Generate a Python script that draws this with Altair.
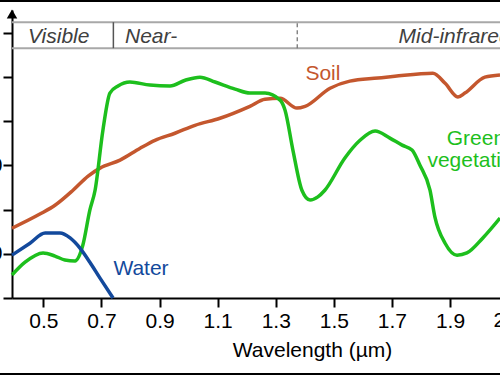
import altair as alt
import pandas as pd

# ---- data (wavelength in µm, reflectance in %) ----
soil_wl = [0.392, 0.488, 0.540, 0.602, 0.654, 0.695, 0.764, 0.833, 0.884, 0.953, 1.022,
           1.108, 1.211, 1.263, 1.315, 1.373, 1.401, 1.487, 1.555, 1.652, 1.710, 1.841,
           1.883, 1.927, 1.951, 2.020, 2.072]
soil_r = [15.8, 19.0, 21.0, 24.4, 27.6, 29.4, 31.2, 33.9, 35.7, 37.3, 39.1,
          40.7, 43.4, 45.0, 45.2, 43.0, 43.4, 47.5, 49.1, 49.8, 50.2, 50.9,
          48.6, 45.5, 46.4, 50.0, 50.5]

veg_wl = [0.392, 0.437, 0.499, 0.540, 0.574, 0.609, 0.636, 0.660, 0.678, 0.705, 0.729,
          0.757, 0.798, 0.867, 0.936, 0.988, 1.039, 1.091, 1.160, 1.211, 1.263, 1.315,
          1.332, 1.359, 1.390, 1.418, 1.445, 1.469, 1.538, 1.590, 1.642, 1.693, 1.735,
          1.769, 1.796, 1.831, 1.848, 1.883, 1.924, 1.958, 2.013, 2.072]
veg_r = [5.2, 8.1, 10.2, 9.5, 8.6, 8.4, 12.0, 19.9, 24.4, 38.0, 46.4,
         48.0, 48.9, 48.2, 48.0, 49.3, 50.0, 48.9, 47.3, 46.4, 46.4, 44.8,
         42.5, 33.5, 24.4, 22.2, 22.9, 24.4, 31.7, 35.7, 37.8, 36.2, 34.6,
         33.5, 30.1, 24.4, 18.3, 12.4, 9.7, 10.2, 13.6, 18.1]

water_wl = [0.392, 0.454, 0.506, 0.557, 0.592, 0.626, 0.660, 0.695, 0.740]
water_r = [9.7, 12.4, 14.7, 14.7, 13.6, 11.3, 8.1, 4.5, 0.0]

series_names = ["Soil", "Green vegetation", "Water"]
series_colors = ["#c4572e", "#1dbf1d", "#13499c"]

x_ticks = [0.5, 0.7, 0.9, 1.1, 1.3, 1.5, 1.7, 1.9]
x_edge_ticks = [2.1]          # tick label that falls past the right edge
y_ticks = [0, 10, 20, 30, 40, 50, 60]

x_domain = [0.392, 2.072]
y_domain = [0, 65.2]

band_bottom, band_top = 56.56, 62.44
band_labels = ["Visible", "Near-", "Mid-infrared"]
band_label_x = [0.447, 0.781, 1.723]
band_label_y = [57.7, 57.7, 57.7]
band_dividers_solid = [0.741]
band_dividers_dashed = [1.374]

curve_labels = ["Soil", "Green\nvegetation", "Water"]
curve_label_x = [1.402, 1.989, 0.741]
curve_label_y = [49.3, 34.6, 5.2]
curve_label_align = ["left", "center", "left"]

FONT = "Liberation Sans"
AXIS_FS = 21

rows = []
for name, wls, rs in [(series_names[0], soil_wl, soil_r),
                      (series_names[1], veg_wl, veg_r),
                      (series_names[2], water_wl, water_r)]:
    for i, (w, r) in enumerate(zip(wls, rs)):
        rows.append({"series": name, "wl": w, "refl": r, "order": i})
df = pd.DataFrame(rows)

xs = alt.Scale(domain=x_domain, nice=False, zero=False)
ys = alt.Scale(domain=y_domain, nice=False, zero=False)
color_scale = alt.Scale(domain=series_names, range=series_colors)

x_axis = alt.Axis(values=x_ticks, format=".1f", title="Wavelength (µm)",
                  labelFlush=False, labelOverlap=False, labelFontSize=AXIS_FS,
                  labelFont=FONT, labelColor="#000", labelPadding=3,
                  tickSize=9, tickWidth=2, tickColor="#000",
                  domainColor="#000", domainWidth=2, grid=False,
                  titleFont=FONT, titleFontSize=AXIS_FS, titleFontWeight="normal",
                  titleColor="#000", titleX=300, titleY=58,
                  titleBaseline="alphabetic", titleAnchor="start",
                  titleAlign="center")
y_axis = alt.Axis(values=y_ticks, title="", grid=False,
                  labelExpr="datum.value == 10 || datum.value == 30 ? datum.label : ''",
                  labelFontSize=AXIS_FS, labelFont=FONT, labelColor="#000",
                  labelPadding=1, tickSize=9, tickWidth=2, tickColor="#000",
                  domainColor="#000", domainWidth=2)


def X(field):
    return alt.X(field, scale=xs, axis=x_axis, title="Wavelength (µm)")


def Y(field):
    return alt.Y(field, scale=ys, axis=y_axis, title="")


lines = alt.Chart(df).mark_line(strokeWidth=3.5, interpolate="monotone").encode(
    x=X("wl:Q"), y=Y("refl:Q"),
    color=alt.Color("series:N", scale=color_scale, legend=None),
    order="order:Q",
)

band_df = pd.DataFrame({"x0": [x_domain[0]] * 2, "x1": [x_domain[1]] * 2,
                        "y": [band_bottom, band_top]})
band_lines = alt.Chart(band_df).mark_rule(color="#a8a8a8", strokeWidth=2).encode(
    x=X("x0:Q"), x2="x1:Q", y=Y("y:Q"))

solid_df = pd.DataFrame({"x": band_dividers_solid, "y0": [band_bottom], "y1": [band_top]})
solid_div = alt.Chart(solid_df).mark_rule(color="#555555", strokeWidth=1.5).encode(
    x=X("x:Q"), y=Y("y0:Q"), y2="y1:Q")

dashed_df = pd.DataFrame({"x": band_dividers_dashed, "y0": [band_bottom], "y1": [band_top]})
dashed_div = alt.Chart(dashed_df).mark_rule(color="#777777", strokeWidth=1.3,
                                            strokeDash=[4, 3]).encode(
    x=X("x:Q"), y=Y("y0:Q"), y2="y1:Q")

band_text_df = pd.DataFrame({"x": band_label_x, "y": band_label_y, "t": band_labels})
band_text = alt.Chart(band_text_df).mark_text(
    font=FONT, fontSize=21, fontStyle="italic", color="#404040",
    align="left", baseline="alphabetic").encode(
    x=X("x:Q"), y=Y("y:Q"), text="t:N")

label_layers = []
for lab, lx, ly, la, col in zip(curve_labels, curve_label_x, curve_label_y,
                                curve_label_align, series_colors):
    ldf = pd.DataFrame({"x": [lx], "y": [ly], "t": [lab]})
    label_layers.append(
        alt.Chart(ldf).mark_text(font=FONT, fontSize=21, color=col, align=la,
                                 baseline="alphabetic", lineBreak="\n",
                                 lineHeight=22).encode(
            x=X("x:Q"), y=Y("y:Q"), text="t:N"))

edge_df = pd.DataFrame({"x": x_edge_ticks, "t": [f"{v:.1f}" for v in x_edge_ticks]})
edge_label = alt.Chart(edge_df).mark_text(
    font=FONT, fontSize=AXIS_FS, color="#000", align="center", baseline="top").encode(
    x=X("x:Q"), y=alt.value(300), text="t:N")

dummy = pd.DataFrame({"a": [0]})
arrow = alt.Chart(dummy).mark_point(shape="triangle-up", filled=True, color="#000",
                                    size=110, opacity=1).encode(
    x=alt.value(0), y=alt.value(4))
frame_top = alt.Chart(dummy).mark_rule(color="#000", strokeWidth=2).encode(
    x=alt.value(-12), x2=alt.value(488), y=alt.value(-9))
frame_bottom = alt.Chart(dummy).mark_rule(color="#000", strokeWidth=2).encode(
    x=alt.value(-12), x2=alt.value(488), y=alt.value(364))

chart = alt.layer(
    lines, band_lines, solid_div, dashed_div, band_text, *label_layers,
    edge_label, arrow, frame_top, frame_bottom
).properties(
    width=488, height=288,
    autosize=alt.AutoSizeParams(type="none"),
    padding={"left": 12, "top": 10, "right": 0, "bottom": 77},
    background="white",
).configure_view(strokeWidth=0)

chart.save("out.html", embed_options={"renderer": "svg", "actions": False})
